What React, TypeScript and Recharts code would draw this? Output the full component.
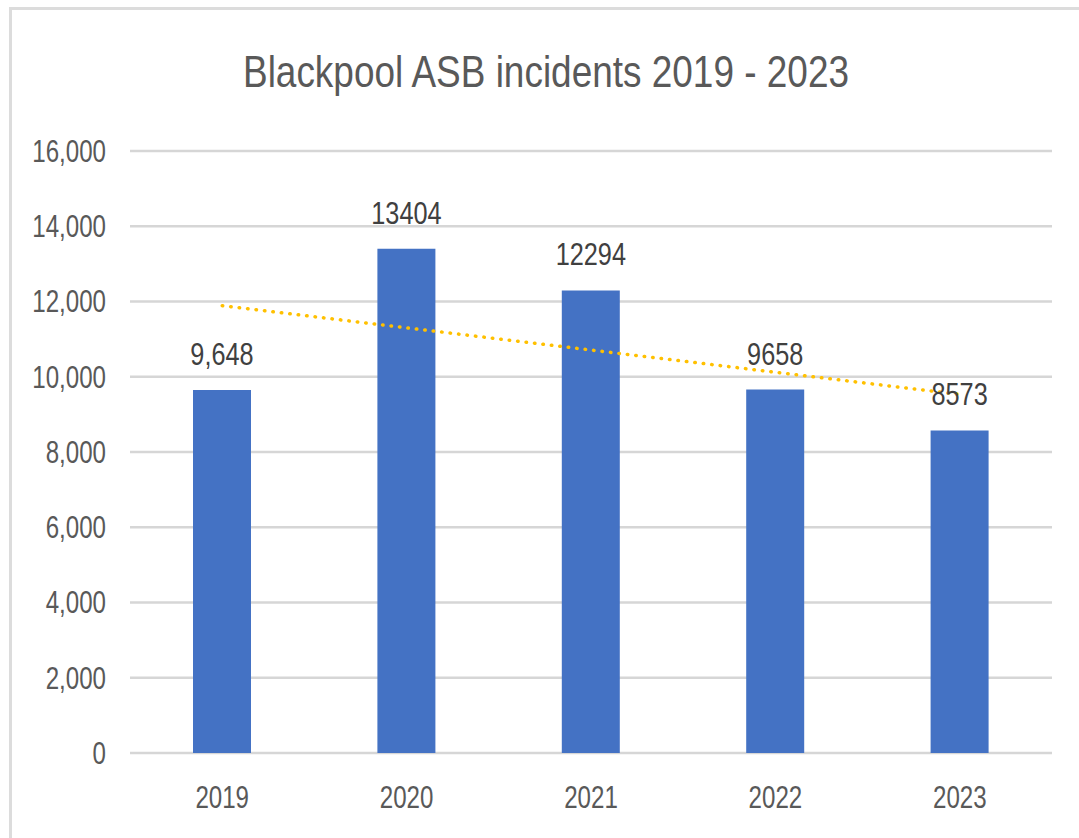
import React from 'react';
import { ComposedChart, Bar, Line, XAxis, YAxis, CartesianGrid, LabelList } from 'recharts';

const years = ['2019', '2020', '2021', '2022', '2023'];
const incidents = [9648, 13404, 12294, 9658, 8573];
// labels as printed on the chart (first one has a thousands separator)
const barLabels = ['9,648', '13404', '12294', '9658', '8573'];
// dotted trend line
const trend = [11890, 11300, 10710, 10120, 9530];
const yTicks = [0, 2000, 4000, 6000, 8000, 10000, 12000, 14000, 16000];

const data = years.map((year, i) => ({
  year,
  incidents: incidents[i],
  label: barLabels[i],
  trend: trend[i],
}));

const FONT = '"Liberation Sans", Arial, sans-serif';
// the original uses a narrow font, squeeze text horizontally
const SQUEEZE = 0.79;

const YTick = ({ x, y, payload }: any) => (
  <g transform={`translate(${x},${y})`}>
    <text
      transform={`scale(${SQUEEZE},1)`}
      textAnchor="end"
      dy="0.36em"
      fill="#595959"
      style={{ fontFamily: FONT, fontSize: 30.5 }}
    >
      {payload.value.toLocaleString('en-US')}
    </text>
  </g>
);

const XTick = ({ x, y, payload }: any) => (
  <g transform={`translate(${x},${y})`}>
    <text
      transform={`scale(${SQUEEZE},1)`}
      textAnchor="middle"
      dy="0.71em"
      fill="#595959"
      style={{ fontFamily: FONT, fontSize: 30.5 }}
    >
      {payload.value}
    </text>
  </g>
);

const BarLabel = ({ x, y, width, value }: any) => (
  <g transform={`translate(${x + width / 2},${y - 25})`}>
    <text
      transform={`scale(${SQUEEZE},1)`}
      textAnchor="middle"
      fill="#404040"
      style={{ fontFamily: FONT, fontSize: 32 }}
    >
      {value}
    </text>
  </g>
);

const App: React.FC = () => {
  return (
    <div style={{ position: 'absolute', left: 0, top: 0, width: 1079, height: 838, background: '#fff' }}>
      {/* chart frame, only top and left edges are visible */}
      <div style={{ position: 'absolute', left: 9, top: 7, width: 1070, height: 3, background: '#dcdcdc' }} />
      <div style={{ position: 'absolute', left: 9, top: 7, width: 3, height: 831, background: '#dcdcdc' }} />
      <ComposedChart
        width={1079}
        height={838}
        data={data}
        margin={{ top: 151, right: 27, left: 0, bottom: 5 }}
        style={{ position: 'absolute', left: 0, top: 0 }}
      >
        <g transform="translate(546,87)">
          <text
            transform="scale(0.84,1)"
            textAnchor="middle"
            fill="#595959"
            style={{ fontFamily: FONT, fontSize: 44 }}
          >
            Blackpool ASB incidents 2019 - 2023
          </text>
        </g>
        <CartesianGrid vertical={false} stroke="#d6d6d6" strokeWidth={2.5} />
        <XAxis
          dataKey="year"
          axisLine={false}
          tickLine={false}
          height={80}
          tickMargin={27}
          tick={<XTick />}
        />
        <YAxis
          domain={[0, 16000]}
          ticks={yTicks}
          axisLine={false}
          tickLine={false}
          width={130}
          tickMargin={18}
          tick={<YTick />}
        />
        <Bar dataKey="incidents" fill="#4472C4" barSize={58} isAnimationActive={false}>
          <LabelList dataKey="label" content={<BarLabel />} />
        </Bar>
        <Line
          dataKey="trend"
          type="linear"
          stroke="#FFC000"
          strokeWidth={3.5}
          strokeDasharray="0.5 8"
          strokeLinecap="round"
          dot={false}
          activeDot={false}
          isAnimationActive={false}
        />
      </ComposedChart>
    </div>
  );
};

export default App;
